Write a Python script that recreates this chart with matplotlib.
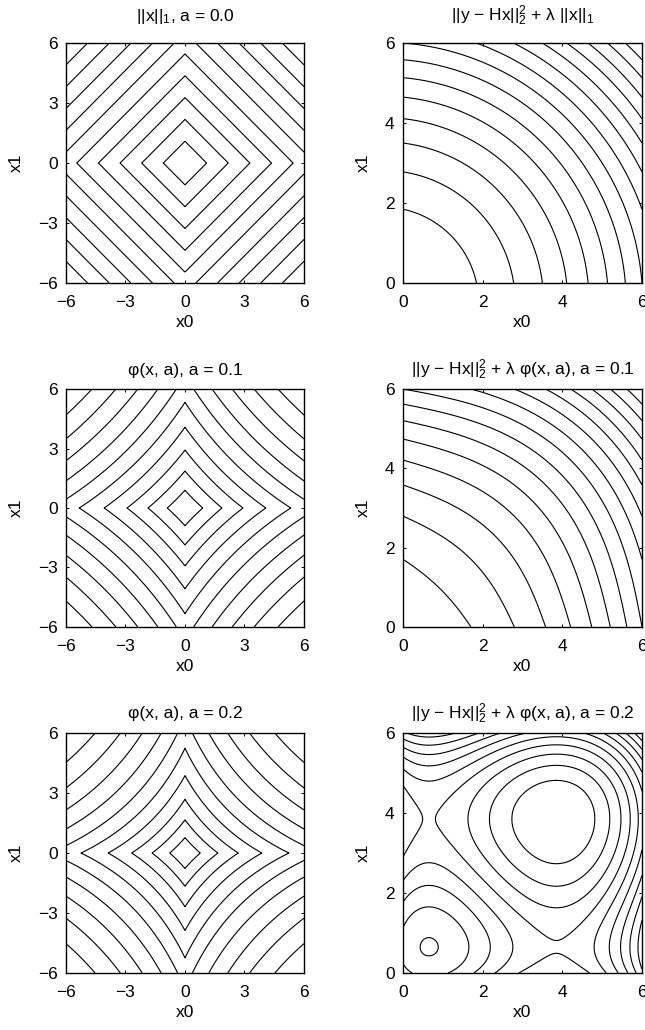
import numpy as np
import matplotlib
matplotlib.use('Agg')
import matplotlib.pyplot as plt

plt.rcParams['font.family'] = ['Liberation Sans', 'DejaVu Sans']
plt.rcParams['mathtext.fontset'] = 'custom'
plt.rcParams['mathtext.rm'] = 'Liberation Sans'
plt.rcParams['mathtext.it'] = 'Liberation Sans'
plt.rcParams['mathtext.default'] = 'regular'

# Problem parameters
a_values = [0.0, 0.1, 0.2]
H = [[1.0, 0.0], [0.0, 1.0]]
y_obs = [9.5, 9.5]
lam = 20.0
n_levels_left = [10, 10, 10]
n_levels_right = [15, 15, 10]

left_ticks = [-6, -3, 0, 3, 6]
right_ticks = [0, 2, 4, 6]

left_titles = ['||x||$_1$, a = 0.0', 'φ(x, a), a = 0.1', 'φ(x, a), a = 0.2']
right_titles = ['||y − Hx||$_2^2$ + λ ||x||$_1$',
                '||y − Hx||$_2^2$ + λ φ(x, a), a = 0.1',
                '||y − Hx||$_2^2$ + λ φ(x, a), a = 0.2']

FS = 12.5


def penalty(t, a):
    if a == 0:
        return np.abs(t)
    return np.log(1 + a * np.abs(t)) / a


def linear_levels(z, n):
    return np.linspace(z.min(), z.max(), n + 2)[1:-1]


def style(ax, ticks):
    ax.set_xlim(ticks[0], ticks[-1])
    ax.set_ylim(ticks[0], ticks[-1])
    ax.set_xticks(ticks)
    ax.set_yticks(ticks)
    ax.tick_params(direction='in', top=True, right=True, length=2.5,
                   width=0.7, labelsize=FS)
    ax.tick_params(axis='x', pad=8.5)
    ax.tick_params(axis='y', pad=6)
    for s in ax.spines.values():
        s.set_linewidth(1.0)
    ax.set_xlabel('x0', fontsize=FS, labelpad=4)
    ax.set_ylabel('x1', fontsize=FS, labelpad=10.5)


fig = plt.figure(figsize=(6.45, 10.30), dpi=100)
bottoms = [0.7252, 0.3913, 0.0553]
heights = [0.233, 0.231, 0.233]
title_pads = [16, 10, 10.5]

Hm = np.array(H)
yv = np.array(y_obs)

for i, a in enumerate(a_values):
    # left column: penalty on [-6, 6]^2
    g = np.linspace(-6, 6, 601)
    X0, X1 = np.meshgrid(g, g)
    Z = penalty(X0, a) + penalty(X1, a)
    ax = fig.add_axes([0.1023, bottoms[i], 0.369, heights[i]])
    ax.contour(X0, X1, Z, levels=linear_levels(Z, n_levels_left[i]),
               colors='black', linewidths=0.8)
    style(ax, left_ticks)
    ax.set_title(left_titles[i], fontsize=FS, pad=title_pads[i])

    # right column: cost function on [0, 6]^2
    g = np.linspace(0, 6, 601)
    X0, X1 = np.meshgrid(g, g)
    r0 = yv[0] - (Hm[0, 0] * X0 + Hm[0, 1] * X1)
    r1 = yv[1] - (Hm[1, 0] * X0 + Hm[1, 1] * X1)
    F = r0 ** 2 + r1 ** 2 + lam * (penalty(X0, a) + penalty(X1, a))
    ax = fig.add_axes([0.6248, bottoms[i], 0.3705, heights[i]])
    ax.contour(X0, X1, F, levels=linear_levels(F, n_levels_right[i]),
               colors='black', linewidths=0.8)
    style(ax, right_ticks)
    ax.set_title(right_titles[i], fontsize=FS, pad=title_pads[i])

fig.savefig('out.png', dpi=100)
